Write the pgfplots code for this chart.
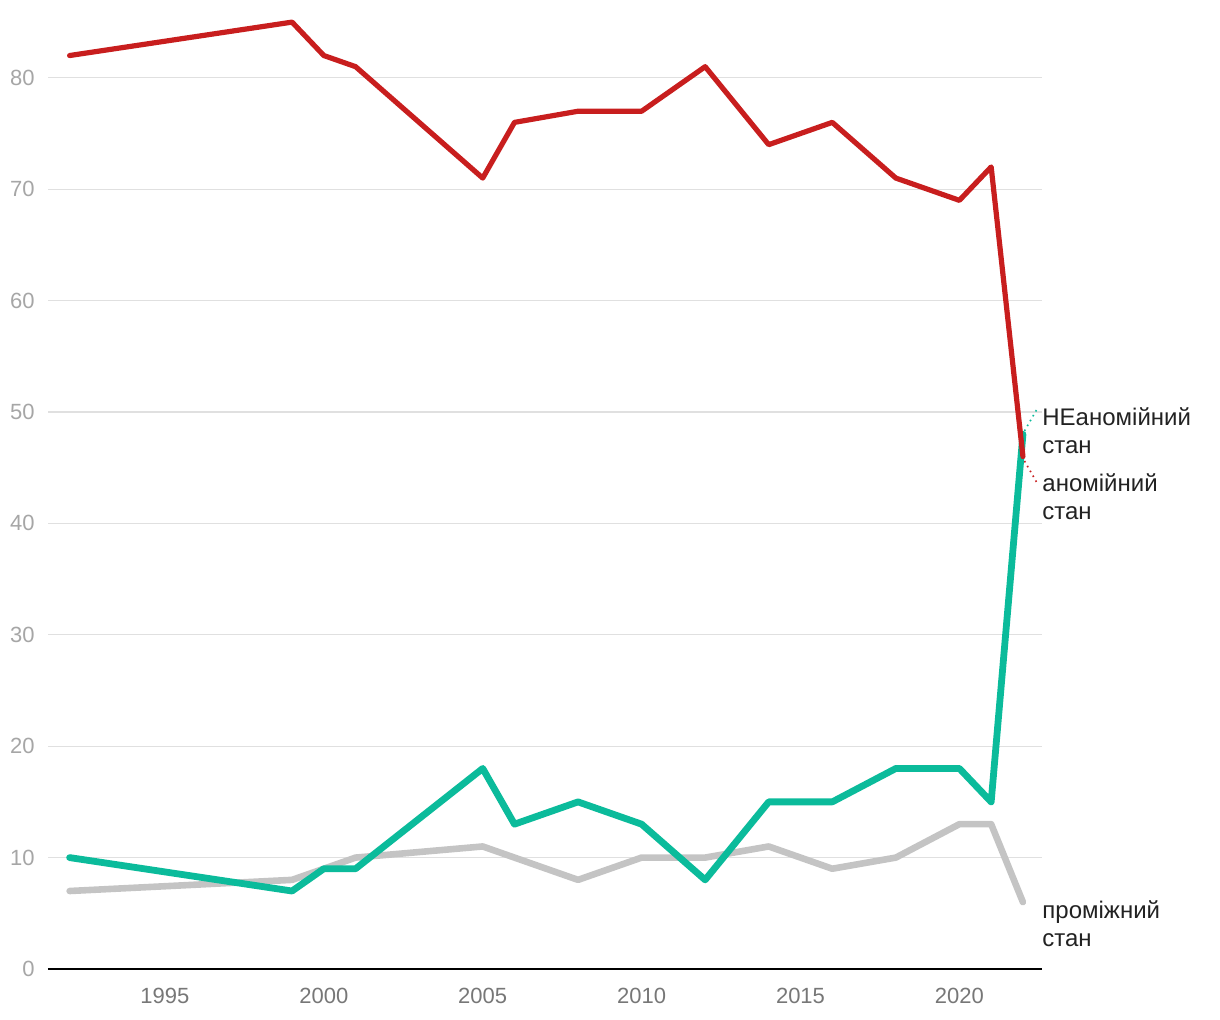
\documentclass[border=0pt]{standalone}
\usepackage{fontspec}
\setmainfont{Liberation Sans}
\usepackage{pgfplots}
\pgfplotsset{compat=1.18}
\definecolor{cred}{HTML}{C81E1E}
\definecolor{cgreen}{HTML}{0BBB9B}
\definecolor{cgray}{HTML}{C4C4C4}
\definecolor{cgrid}{HTML}{E0E0E0}
\definecolor{ctick}{HTML}{A6A6A6}
\definecolor{cxtick}{HTML}{777777}
\definecolor{ctext}{HTML}{222222}
\begin{document}
\begin{tikzpicture}
\useasboundingbox (-24pt,-25.5pt) rectangle (586pt,484.5pt);
\begin{axis}[
  at={(0,0)}, anchor=south west,
  scale only axis, width=497pt, height=479pt,
  xmin=1991.32, xmax=2022.6, ymin=0, ymax=86,
  axis x line=bottom, axis y line=none,
  axis line style={black, line width=1pt, -},
  xtick={1995,2000,2005,2010,2015,2020},
  ytick={10,20,30,40,50,60,70,80},
  major tick length=0pt,
  xticklabel style={font=\fontsize{11}{13}\selectfont, text=cxtick, yshift=-6pt},
  /pgf/number format/assume math mode=true,
  /pgf/number format/1000 sep={},
  clip=false,
]
% grid lines
\foreach \v in {10,20,30,40,50,60,70,80} {
  \edef\tmp{\noexpand\draw[cgrid, line width=0.6pt] (axis cs:1991.32,\v) -- (axis cs:2022.6,\v);}
  \tmp
}
\foreach \v in {0,10,20,30,40,50,60,70,80} {
  \edef\tmp{\noexpand\node[anchor=east, inner sep=0pt, font=\noexpand\fontsize{11}{13}\noexpand\selectfont, text=ctick, xshift=-6.5pt] at (axis cs:1991.32,\v) {\v};}
  \tmp
}
\addplot[cgray, line width=3.3pt, line join=round, line cap=round] coordinates {
(1992,7) (1999,8) (2000,9) (2001,10) (2005,11) (2006,10) (2008,8) (2010,10) (2012,10) (2014,11) (2016,9) (2018,10) (2020,13) (2021,13) (2022,6)};
\addplot[cgreen, line width=3.4pt, line join=round, line cap=round] coordinates {
(1992,10) (1999,7) (2000,9) (2001,9) (2005,18) (2006,13) (2008,15) (2010,13) (2012,8) (2014,15) (2016,15) (2018,18) (2020,18) (2021,15) (2022,48)};
\addplot[cred, line width=2.6pt, line join=round, line cap=round] coordinates {
(1992,82) (1999,85) (2000,82) (2001,81) (2005,71) (2006,76) (2008,77) (2010,77) (2012,81) (2014,74) (2016,76) (2018,71) (2020,69) (2021,72) (2022,46)};
\draw[cgreen, line width=0.8pt, dotted] (axis cs:2022.05,48.3) -- (axis cs:2022.45,50.3);
\draw[cred, line width=0.8pt, dotted] (axis cs:2022.05,45.6) -- (axis cs:2022.45,43.6);
\node[anchor=west, inner sep=0pt, align=left, font=\fontsize{12}{14}\selectfont, text=ctext] at (axis cs:2022.6,48.35) {НЕаномійний\\стан};
\node[anchor=west, inner sep=0pt, align=left, font=\fontsize{12}{14}\selectfont, text=ctext] at (axis cs:2022.6,42.4) {аномійний\\стан};
\node[anchor=west, inner sep=0pt, align=left, font=\fontsize{12}{14}\selectfont, text=ctext] at (axis cs:2022.6,4.1) {проміжний\\стан};
\end{axis}
\end{tikzpicture}
\end{document}
